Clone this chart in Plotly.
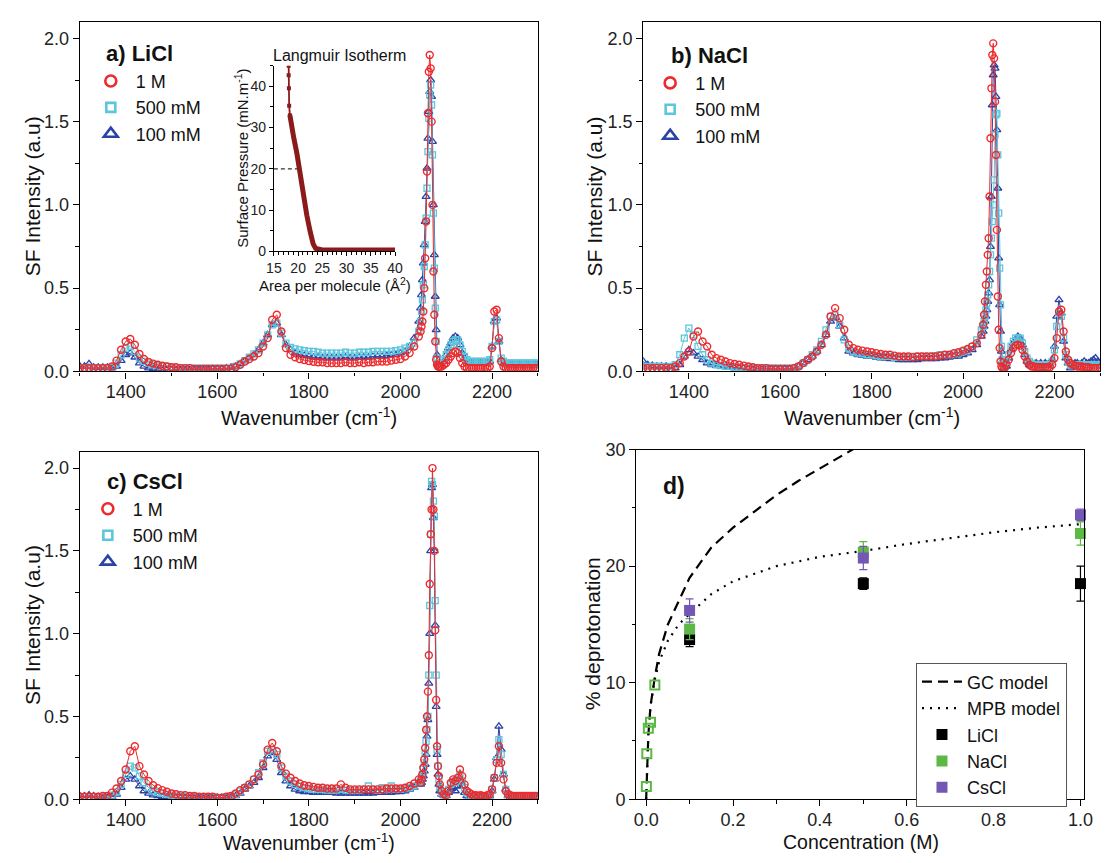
import plotly.graph_objects as go

W, H = 1118, 863
def PX(p): return p / W
def PY(p): return 1 - p / H

FONT = "Arial, Liberation Sans, Helvetica, sans-serif"
RED, CYAN, BLUE = "#ee2a2c", "#5cc6dc", "#2c43a6"
GREEN, PURPLE = "#5cb946", "#7456b4"
ISO = "#8b1a1a"

# ---------------- wavenumber grid (cm-1) ----------------
wn = list(range(1300, 2041, 10)) + list(range(2044, 2087, 2)) + list(range(2090, 2301, 5))

# ---------------- a) LiCl ----------------
a_1M = [0.02,0.02,0.02,0.02,0.02,0.02,0.02,0.03,0.065,0.13,
        0.18,0.195,0.16,0.105,0.075,0.057,0.047,0.04,0.034,0.03,
        0.025,0.025,0.02,0.02,0.02,0.015,0.015,0.015,0.015,0.015,
        0.015,0.015,0.015,0.015,0.025,0.04,0.06,0.075,0.09,0.11,
        0.15,0.2,0.31,0.34,0.24,0.14,0.1,0.085,0.075,0.068,
        0.062,0.058,0.055,0.055,0.05,0.05,0.05,0.05,0.055,0.05,
        0.05,0.055,0.05,0.055,0.055,0.06,0.06,0.06,0.065,0.07,
        0.075,0.09,0.11,0.15,0.21,
        0.24,0.27,0.3,0.36,0.5,0.68,0.9,1.2,1.55,1.8,1.9,1.82,1.5,1.0,0.6,0.34,0.18,0.07,0.04,0.03,0.03,0.03,
        0.03,0.04,0.05,0.07,0.09,0.11,0.12,0.11,0.08,0.05,
        0.03,0.02,0.02,0.02,0.02,0.02,0.02,0.02,0.02,0.02,
        0.02,0.03,0.14,0.36,0.37,0.2,0.06,0.03,0.02,0.02,
        0.02,0.02,0.02,0.02,0.02,0.02,0.02,0.02,0.02,0.02,
        0.02,0.02,0.02]
a_500 = [0.02,0.02,0.02,0.02,0.02,0.02,0.02,0.025,0.05,0.1,
         0.14,0.15,0.12,0.08,0.06,0.05,0.04,0.035,0.03,0.03,
         0.025,0.02,0.02,0.02,0.02,0.02,0.02,0.02,0.02,0.02,
         0.02,0.02,0.02,0.02,0.03,0.045,0.065,0.085,0.105,0.13,
         0.17,0.22,0.28,0.29,0.23,0.17,0.145,0.135,0.13,0.125,
         0.12,0.12,0.115,0.11,0.11,0.11,0.11,0.11,0.115,0.11,
         0.11,0.115,0.115,0.115,0.12,0.12,0.12,0.12,0.12,0.125,
         0.13,0.14,0.15,0.17,0.24,
         0.3,0.36,0.43,0.52,0.63,0.76,0.92,1.1,1.32,1.52,1.66,1.72,1.6,1.3,0.95,0.62,0.38,0.18,0.08,0.05,0.045,0.045,
         0.05,0.07,0.1,0.13,0.16,0.18,0.19,0.19,0.16,0.12,
         0.09,0.07,0.06,0.06,0.06,0.06,0.06,0.06,0.06,0.06,
         0.06,0.07,0.15,0.3,0.31,0.18,0.08,0.06,0.05,0.05,
         0.05,0.05,0.05,0.05,0.05,0.05,0.05,0.05,0.05,0.05,
         0.05,0.05,0.05]
a_100 = [0.03,0.03,0.045,0.025,0.025,0.025,0.025,0.02,0.03,0.065,
         0.1,0.11,0.085,0.05,0.03,0.02,0.015,0.01,0.01,0.01,
         0.01,0.01,0.01,0.01,0.01,0.01,0.01,0.01,0.01,0.015,
         0.015,0.015,0.02,0.025,0.03,0.045,0.06,0.08,0.1,0.13,
         0.17,0.22,0.28,0.29,0.22,0.16,0.13,0.11,0.1,0.095,
         0.09,0.085,0.085,0.08,0.08,0.08,0.08,0.08,0.085,0.08,
         0.08,0.085,0.085,0.085,0.09,0.09,0.09,0.095,0.1,0.1,
         0.11,0.12,0.15,0.2,0.3,
         0.38,0.46,0.55,0.65,0.76,0.9,1.05,1.22,1.4,1.56,1.68,1.75,1.65,1.38,1.0,0.7,0.45,0.25,0.1,0.05,0.04,0.04,
         0.04,0.06,0.1,0.14,0.17,0.2,0.21,0.2,0.16,0.11,
         0.08,0.06,0.05,0.05,0.05,0.05,0.05,0.05,0.05,0.05,
         0.05,0.06,0.15,0.3,0.32,0.18,0.07,0.05,0.04,0.04,
         0.04,0.04,0.04,0.04,0.04,0.04,0.04,0.04,0.04,0.04,
         0.04,0.04,0.04]

# ---------------- b) NaCl ----------------
b_1M = [0.02,0.02,0.02,0.02,0.02,0.02,0.02,0.03,0.05,0.09,
        0.12,0.21,0.24,0.18,0.15,0.1,0.08,0.07,0.06,0.05,
        0.045,0.04,0.035,0.03,0.025,0.02,0.02,0.02,0.015,0.015,
        0.015,0.015,0.015,0.02,0.03,0.05,0.07,0.09,0.12,0.16,
        0.22,0.33,0.38,0.32,0.25,0.16,0.14,0.13,0.125,0.12,
        0.115,0.11,0.105,0.1,0.1,0.095,0.09,0.09,0.09,0.085,
        0.09,0.09,0.09,0.09,0.09,0.095,0.1,0.1,0.11,0.115,
        0.125,0.135,0.15,0.17,0.22,
        0.28,0.34,0.42,0.52,0.6,0.7,0.8,1.05,1.4,1.7,1.9,1.97,1.88,1.62,1.3,0.85,0.45,0.25,0.14,0.06,0.03,0.02,
        0.02,0.04,0.07,0.11,0.14,0.155,0.16,0.155,0.13,0.09,
        0.06,0.04,0.03,0.03,0.025,0.025,0.025,0.025,0.025,0.025,
        0.025,0.04,0.08,0.2,0.36,0.37,0.24,0.12,0.07,0.05,
        0.04,0.035,0.03,0.03,0.03,0.025,0.025,0.025,0.02,0.02,
        0.02,0.02,0.02]
b_500 = [0.03,0.03,0.03,0.03,0.03,0.025,0.03,0.04,0.1,0.2,
         0.26,0.22,0.15,0.1,0.07,0.05,0.04,0.035,0.03,0.03,
         0.025,0.025,0.02,0.02,0.02,0.02,0.02,0.02,0.02,0.02,
         0.02,0.02,0.02,0.02,0.03,0.05,0.07,0.1,0.13,0.18,
         0.25,0.33,0.34,0.28,0.19,0.14,0.12,0.11,0.105,0.1,
         0.1,0.095,0.09,0.09,0.09,0.085,0.085,0.085,0.085,0.09,
         0.09,0.09,0.09,0.09,0.095,0.1,0.1,0.1,0.105,0.11,
         0.12,0.13,0.15,0.19,0.25,
         0.27,0.3,0.33,0.37,0.41,0.46,0.52,0.6,0.7,0.8,0.9,1.0,1.15,1.42,1.54,1.55,1.3,0.95,0.62,0.4,0.15,0.07,
         0.04,0.06,0.1,0.15,0.18,0.2,0.2,0.2,0.17,0.12,
         0.08,0.06,0.05,0.04,0.04,0.04,0.04,0.04,0.04,0.04,
         0.04,0.06,0.13,0.27,0.35,0.33,0.2,0.1,0.06,0.04,
         0.04,0.04,0.04,0.04,0.04,0.04,0.04,0.04,0.04,0.04,
         0.04,0.04,0.04]
b_100 = [0.06,0.04,0.035,0.03,0.03,0.03,0.025,0.02,0.04,0.09,
         0.13,0.11,0.09,0.07,0.05,0.04,0.035,0.03,0.03,0.025,
         0.02,0.02,0.02,0.015,0.015,0.015,0.015,0.015,0.015,0.015,
         0.015,0.015,0.015,0.02,0.03,0.05,0.07,0.09,0.12,0.16,
         0.22,0.3,0.32,0.27,0.2,0.12,0.11,0.1,0.095,0.09,
         0.09,0.085,0.08,0.08,0.075,0.075,0.07,0.07,0.07,0.07,
         0.07,0.075,0.075,0.075,0.075,0.08,0.08,0.085,0.09,0.09,
         0.1,0.11,0.13,0.16,0.21,
         0.24,0.27,0.3,0.33,0.37,0.42,0.47,0.55,0.75,1.05,1.6,1.78,1.84,1.82,1.65,1.45,1.1,0.68,0.4,0.24,0.12,0.06,
         0.02,0.03,0.08,0.13,0.17,0.19,0.21,0.2,0.16,0.1,
         0.06,0.04,0.04,0.04,0.05,0.04,0.05,0.04,0.05,0.04,
         0.05,0.07,0.15,0.33,0.43,0.35,0.18,0.08,0.05,0.02,
         0.03,0.05,0.05,0.04,0.05,0.06,0.05,0.05,0.06,0.07,
         0.08,0.06,0.05]

# ---------------- c) CsCl ----------------
c_1M = [0.015,0.015,0.015,0.015,0.015,0.02,0.02,0.04,0.065,0.11,
        0.18,0.29,0.32,0.2,0.15,0.11,0.085,0.067,0.055,0.045,
        0.035,0.03,0.025,0.025,0.02,0.02,0.015,0.015,0.015,0.015,
        0.01,0.01,0.015,0.02,0.035,0.055,0.07,0.09,0.12,0.15,
        0.21,0.3,0.34,0.29,0.2,0.155,0.13,0.11,0.095,0.085,
        0.08,0.075,0.07,0.07,0.065,0.065,0.065,0.09,0.07,0.06,
        0.06,0.06,0.06,0.06,0.06,0.06,0.06,0.065,0.065,0.065,
        0.065,0.07,0.08,0.095,0.12,
        0.1,0.12,0.15,0.19,0.24,0.31,0.42,0.5,0.65,0.87,1.3,1.6,1.75,2.0,1.75,1.5,1.02,0.6,0.32,0.2,0.14,0.09,
        0.05,0.03,0.025,0.05,0.1,0.12,0.11,0.13,0.18,0.14,
        0.09,0.05,0.04,0.03,0.02,0.025,0.02,0.025,0.02,0.02,
        0.025,0.03,0.06,0.13,0.22,0.32,0.22,0.12,0.05,0.03,
        0.025,0.02,0.02,0.02,0.02,0.02,0.02,0.02,0.02,0.02,
        0.02,0.02,0.02]
c_500 = [0.015,0.015,0.015,0.015,0.015,0.015,0.02,0.025,0.045,0.09,
         0.15,0.2,0.19,0.14,0.1,0.07,0.05,0.04,0.035,0.03,
         0.025,0.02,0.02,0.02,0.015,0.015,0.015,0.015,0.015,0.015,
         0.01,0.01,0.015,0.02,0.03,0.05,0.07,0.09,0.12,0.16,
         0.22,0.29,0.3,0.27,0.19,0.14,0.11,0.09,0.08,0.07,
         0.065,0.06,0.06,0.06,0.055,0.055,0.055,0.06,0.055,0.055,
         0.055,0.055,0.06,0.08,0.06,0.055,0.07,0.06,0.08,0.06,
         0.06,0.065,0.07,0.08,0.1,
         0.11,0.13,0.15,0.18,0.22,0.28,0.35,0.42,0.5,0.75,1.17,1.6,1.92,1.9,1.8,1.71,1.2,0.75,0.3,0.2,0.12,0.07,
         0.04,0.03,0.03,0.06,0.09,0.11,0.1,0.12,0.15,0.11,
         0.07,0.04,0.02,0.02,0.02,0.02,0.02,0.02,0.02,0.02,
         0.02,0.02,0.06,0.13,0.24,0.36,0.27,0.15,0.06,0.03,
         0.02,0.02,0.02,0.02,0.02,0.02,0.02,0.02,0.02,0.02,
         0.02,0.02,0.02]
c_100 = [0.02,0.02,0.025,0.02,0.015,0.01,0.01,0.015,0.03,0.07,
         0.12,0.14,0.12,0.08,0.05,0.035,0.025,0.02,0.015,0.015,
         0.01,0.01,0.01,0.01,0.01,0.01,0.01,0.01,0.01,0.01,
         0.01,0.01,0.01,0.015,0.02,0.035,0.06,0.08,0.1,0.13,
         0.19,0.26,0.28,0.24,0.16,0.11,0.08,0.06,0.05,0.045,
         0.045,0.04,0.04,0.04,0.04,0.04,0.035,0.035,0.035,0.035,
         0.035,0.035,0.035,0.035,0.035,0.04,0.04,0.04,0.04,0.045,
         0.045,0.05,0.06,0.07,0.09,
         0.09,0.1,0.12,0.14,0.17,0.21,0.27,0.38,0.48,0.7,1.0,1.5,1.88,1.9,1.7,1.5,1.05,0.56,0.27,0.15,0.09,0.05,
         0.03,0.02,0.02,0.04,0.06,0.07,0.05,0.08,0.11,0.08,
         0.04,0.02,0.01,0.01,0.01,0.01,0.01,0.01,0.01,0.01,
         0.01,0.02,0.05,0.12,0.25,0.44,0.3,0.15,0.06,0.02,
         0.015,0.015,0.015,0.015,0.015,0.015,0.015,0.015,0.015,0.015,
         0.015,0.015,0.015]

# ---------------- inset: Langmuir isotherm ----------------
iso_area = [18.05, 18.05, 18.1, 18.15, 18.3, 18.6, 19.1, 19.75, 20.4, 21.1, 21.8, 22.5, 23.1, 23.6, 24.2, 25.0, 27.0, 30.0, 35.0, 40.0]
iso_pres = [45.0, 42.7, 39.5, 35.3, 33.0, 30.5, 27.5, 23.7, 18.5, 12.6, 8.7, 4.7, 1.8, 0.7, 0.4, 0.3, 0.3, 0.3, 0.3, 0.3]
iso_ref_area = [15, 19.8]
iso_ref_pres = [20, 20]

# ---------------- d) deprotonation ----------------
gc_x = [0, 0.002, 0.005, 0.01, 0.02, 0.03, 0.05, 0.075, 0.1, 0.15, 0.2, 0.25, 0.3, 0.35, 0.4, 0.45, 0.48]
gc_y = [0, 3.0, 5.5, 8.0, 10.5, 12.5, 15.0, 17.0, 19.0, 21.6, 23.3, 24.7, 26.1, 27.3, 28.4, 29.5, 30.1]
mpb_x = [0, 0.002, 0.005, 0.01, 0.02, 0.03, 0.05, 0.075, 0.1, 0.15, 0.2, 0.3, 0.4, 0.5, 0.6, 0.7, 0.8, 0.9, 1.0]
mpb_y = [0, 3.0, 5.5, 8.0, 10.3, 11.8, 13.6, 15.0, 15.9, 17.6, 18.7, 20.0, 20.8, 21.3, 21.9, 22.4, 22.9, 23.3, 23.6]
low_x = [0.0005, 0.0015, 0.005, 0.01, 0.02]
low_y = [1.1, 3.9, 6.1, 6.6, 9.8]
conc = [0.1, 0.5, 1.0]
licl = [13.7, 18.5, 18.5]; licl_err = [0.6, 0.5, 1.5]
nacl = [14.6, 21.2, 22.8]; nacl_err = [0.9, 0.9, 1.0]
cscl = [16.2, 20.7, 24.4]; cscl_err = [1.0, 1.0, 0.5]

fig = go.Figure()

panels = [("x", "y", a_1M, a_500, a_100, "legend"),
          ("x2", "y2", b_1M, b_500, b_100, "legend2"),
          ("x3", "y3", c_1M, c_500, c_100, "legend3")]
for xa, ya, s1, s5, s10, lg in panels:
    fig.add_trace(go.Scatter(x=wn, y=s10, xaxis=xa, yaxis=ya, mode="lines+markers", showlegend=False,
                             line=dict(color=BLUE, width=1),
                             marker=dict(symbol="triangle-up-open", size=7, color=BLUE, line=dict(width=1.3, color=BLUE))))
    fig.add_trace(go.Scatter(x=wn, y=s5, xaxis=xa, yaxis=ya, mode="lines+markers", showlegend=False,
                             line=dict(color=CYAN, width=1),
                             marker=dict(symbol="square-open", size=6, color=CYAN, line=dict(width=1.3, color=CYAN))))
    fig.add_trace(go.Scatter(x=wn, y=s1, xaxis=xa, yaxis=ya, mode="lines+markers", showlegend=False,
                             line=dict(color=RED, width=1),
                             marker=dict(symbol="circle-open", size=7, color=RED, line=dict(width=1.4, color=RED))))
    for name, sym, col, sz in [("1 M", "circle-open", RED, 11), ("500 mM", "square-open", CYAN, 9),
                               ("100 mM", "triangle-up-open", BLUE, 12)]:
        fig.add_trace(go.Scatter(x=[None], y=[None], xaxis=xa, yaxis=ya, mode="markers", name=name,
                                 legend=lg, showlegend=True,
                                 marker=dict(symbol=sym, size=sz, color=col, line=dict(width=2.6, color=col))))

# inset
fig.add_trace(go.Scatter(x=iso_ref_area, y=iso_ref_pres, xaxis="x5", yaxis="y5", mode="lines", showlegend=False,
                         line=dict(color="#333", width=1.2, dash="4px,3px")))
fig.add_trace(go.Scatter(x=iso_area[:5], y=iso_pres[:5], xaxis="x5", yaxis="y5", mode="lines+markers",
                         showlegend=False, line=dict(color=ISO, width=1.8),
                         marker=dict(symbol="square", size=4, color=ISO)))
fig.add_trace(go.Scatter(x=iso_area[4:], y=iso_pres[4:], xaxis="x5", yaxis="y5", mode="lines",
                         showlegend=False, line=dict(color=ISO, width=5)))

# panel d
fig.add_trace(go.Scatter(x=gc_x, y=gc_y, xaxis="x4", yaxis="y4", mode="lines", name="GC model", legend="legend4",
                         line=dict(color="black", width=2.2, dash="10px,6px")))
fig.add_trace(go.Scatter(x=mpb_x, y=mpb_y, xaxis="x4", yaxis="y4", mode="lines", name="MPB model", legend="legend4",
                         line=dict(color="black", width=2.2, dash="2px,6px")))
fig.add_trace(go.Scatter(x=low_x, y=low_y, xaxis="x4", yaxis="y4", mode="markers", showlegend=False,
                         cliponaxis=False,
                         marker=dict(symbol="square-open", size=9, color=GREEN, line=dict(width=2, color=GREEN))))
for name, ys, es, col in [("LiCl", licl, licl_err, "black"), ("NaCl", nacl, nacl_err, GREEN),
                          ("CsCl", cscl, cscl_err, PURPLE)]:
    fig.add_trace(go.Scatter(x=conc, y=ys, xaxis="x4", yaxis="y4", mode="markers", name=name, legend="legend4",
                             cliponaxis=False,
                             error_y=dict(type="data", array=es, visible=True, color=col, thickness=1.2, width=4),
                             marker=dict(symbol="square", size=11, color=col)))

tickfont = dict(family=FONT, size=18, color="#222")

def main_axis(domain, anchor, rng, dtick, minor, fmt=None, tick0=None, lab_off=0):
    d = dict(domain=domain, anchor=anchor, range=rng, dtick=dtick, showline=True, linecolor="black",
             linewidth=1.3, mirror=True, ticks="outside", ticklen=6, tickwidth=1.3, tickcolor="black",
             showgrid=False, zeroline=False, tickfont=tickfont, ticklabelstandoff=lab_off,
             minor=dict(dtick=minor, ticks="outside", ticklen=3.5, tickwidth=1.2, tickcolor="black", showgrid=False))
    if fmt:
        d["tickformat"] = fmt
    if tick0 is not None:
        d["tick0"] = tick0
    return d

xa_dom = [PX(73), PX(538)]
xb_dom = [PX(645), PX(1109)]
ytop_dom = [PY(370), PY(12)]
ybot_dom = [PY(808), PY(452)]

def panel_legend(x, y, size=18, iw=40):
    return dict(x=PX(x), y=PY(y), xanchor="left", yanchor="top", bgcolor="rgba(0,0,0,0)", borderwidth=0,
                font=dict(family=FONT, size=size, color="#111"), itemwidth=iw, tracegroupgap=0,
                itemclick=False, itemdoubleclick=False)

def label(text, x, y, size=21, angle=0, xanchor="center", bold=False):
    return dict(text=("<b>%s</b>" % text) if bold else text, x=PX(x), y=PY(y), xref="paper", yref="paper",
                showarrow=False, textangle=angle, xanchor=xanchor, yanchor="middle",
                font=dict(family=FONT, size=size, color="#111"))

wn_title = "Wavenumber (cm<sup>-1</sup>)"
sf_title = "SF Intensity (a.u)"

inset_font = dict(family=FONT, size=14, color="#222")
fig.update_layout(
    width=W, height=H, margin=dict(l=0, r=0, t=0, b=0),
    paper_bgcolor="white", plot_bgcolor="white",
    font=dict(family=FONT, color="#111"),
    xaxis=main_axis(xa_dom, "y", [1300, 2300], 200, 100, tick0=1400, lab_off=-2),
    yaxis=main_axis(ytop_dom, "x", [0, 2.1], 0.5, 0.25, fmt=".1f"),
    xaxis2=main_axis(xb_dom, "y2", [1300, 2300], 200, 100, tick0=1400, lab_off=-2),
    yaxis2=main_axis(ytop_dom, "x2", [0, 2.1], 0.5, 0.25, fmt=".1f"),
    xaxis3=main_axis(xa_dom, "y3", [1300, 2300], 200, 100, tick0=1400, lab_off=-2),
    yaxis3=main_axis(ybot_dom, "x3", [0, 2.1], 0.5, 0.25, fmt=".1f"),
    xaxis4=main_axis([PX(638), PX(1093)], "y4", [-0.0227, 1.009], 0.2, 0.1, fmt=".1f", tick0=0, lab_off=-2),
    yaxis4=main_axis([PY(808), PY(450)], "x4", [0, 30], 10, 5),
    xaxis5=dict(domain=[PX(270), PX(393)], anchor="y5", range=[15, 40], dtick=5, showline=True, linecolor="black",
                linewidth=1.2, mirror=False, ticks="outside", ticklen=4, tickwidth=1, tickcolor="black",
                showgrid=False, zeroline=False, tickfont=inset_font,
                minor=dict(dtick=1, ticks="outside", ticklen=2.5, tickwidth=0.8, tickcolor="black")),
    yaxis5=dict(domain=[PY(247), PY(57)], anchor="x5", range=[0, 45], dtick=10, showline=True, linecolor="black",
                linewidth=1.2, mirror=False, ticks="outside", ticklen=4, tickwidth=1, tickcolor="black",
                showgrid=False, zeroline=False, tickfont=inset_font,
                minor=dict(dtick=5, ticks="outside", ticklen=2.5, tickwidth=0.8, tickcolor="black")),
    legend=panel_legend(79, 54),
    legend2=panel_legend(647, 56),
    legend3=panel_legend(76, 492),
    legend4=dict(x=PX(922), y=PY(668), xanchor="left", yanchor="top", bgcolor="white", bordercolor="#555",
                 borderwidth=1, font=dict(family=FONT, size=18, color="#111"), itemwidth=40, tracegroupgap=0,
                 itemclick=False, itemdoubleclick=False),
    annotations=[
        # panel labels
        label("a) LiCl", 97, 45, size=22, xanchor="left", bold=True),
        label("b) NaCl", 671, 47, size=22, xanchor="left", bold=True),
        label("c) CsCl", 99, 483, size=22, xanchor="left", bold=True),
        label("d)", 663, 487, size=23, xanchor="left", bold=True),
        # axis titles
        label(wn_title, 306, 416, size=20),
        label(wn_title, 877, 416, size=20),
        label(wn_title, 306, 852, size=19.5),
        label("Concentration (M)", 866, 852, size=19.5),
        label(sf_title, 25, 191, size=21, angle=-90),
        label(sf_title, 596, 191, size=21, angle=-90),
        label(sf_title, 25, 630, size=21, angle=-90),
        label("% deprotonation", 593, 638, size=21, angle=-90),
        # inset
        label("Langmuir Isotherm", 337, 47, size=16),
        label("Area per molecule (Å<sup>2</sup>)", 332, 281, size=15),
        label("Surface Pressure (mN.m<sup>-1</sup>)", 237, 152, size=15, angle=-90),
    ],
)

fig.write_html("out.html", config={"displayModeBar": False},
               post_script="document.body.style.margin='0';")
